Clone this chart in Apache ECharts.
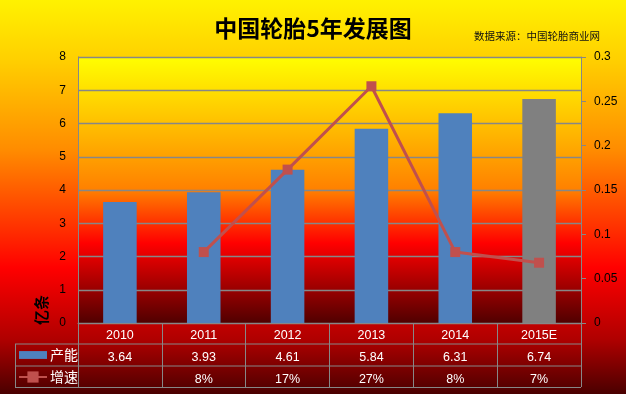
<!DOCTYPE html>
<html><head><meta charset="utf-8">
<script src="https://cdn.jsdelivr.net/npm/echarts@6/dist/echarts.min.js"></script>
<style>
html,body{margin:0;padding:0;}
#c{width:626px;height:394px;background:linear-gradient(to bottom,#FFF200 0%,#FFD000 15%,#FF8C00 38%,#FF3000 58%,#FF0000 68%,#B00000 86%,#4A0000 100%);}
</style></head>
<body><div id="c"></div>
<script>
const categories = ['2010','2011','2012','2013','2014','2015E'];
const capacity = [3.64, 3.93, 4.61, 5.84, 6.31, 6.74];
const growth = [null, 0.080, 0.173, 0.267, 0.080, 0.068];
const growthLabels = ['', '8%', '17%', '27%', '8%', '7%'];
const capacityLabels = ['3.64','3.93','4.61','5.84','6.31','6.74'];
const leftTicks = [0,1,2,3,4,5,6,7,8];
const rightTicks = [0,0.05,0.1,0.15,0.2,0.25,0.3];

const G = {left:78, right:45, top:57, bottom:71};
const gridColor = '#878787';
const font = '"Liberation Sans","DejaVu Sans",sans-serif';
const cjk = '"Noto Sans CJK SC",sans-serif';

const chart = echarts.init(document.getElementById('c'), null, {renderer:'canvas'});
const option = {
  backgroundColor: 'transparent',
  animation: false,
  title: [
    {text:'中国轮胎5年发展图', left:'center', top:12,
     textStyle:{fontFamily:cjk, fontSize:23, fontWeight:'bold', color:'#000'}},
    {text:'数据来源：中国轮胎商业网', left:469, top:26,
     textStyle:{fontFamily:cjk, fontSize:10.5, fontWeight:'normal', color:'#111'}}
  ],
  grid: {left:G.left, right:G.right, top:G.top, bottom:G.bottom, show:true, borderWidth:0,
    backgroundColor: new echarts.graphic.LinearGradient(0,0,0,1,[
      {offset:0,color:'#FFFF00'},{offset:0.5,color:'#FF8000'},{offset:0.7,color:'#FF0000'},{offset:1,color:'#500000'}])},
  legend: {orient:'vertical', left:18, top:348, padding:0, itemWidth:28, itemHeight:14, itemGap:8,
    textStyle:{color:'#fff', fontFamily:cjk, fontSize:14, padding:[0,0,0,-2]},
    data:[
      {name:'产能', icon:'path://M0,0 L25,0 L25,7 L0,7 Z', itemStyle:{color:'#4F81BD'}},
      {name:'增速'}
    ]},
  xAxis: {type:'category', data:categories, boundaryGap:true,
    axisLine:{show:true, lineStyle:{color:gridColor, width:1}},
    axisTick:{show:true, length:64, lineStyle:{color:gridColor, width:1}},
    axisLabel:{interval:0, margin:2, color:'#fff',
      formatter:function(v, i){ return '{h|'+v+'}\n{v|'+capacityLabels[i]+'}\n{g|'+(growthLabels[i]||' ')+'}'; },
      rich:{
        h:{fontFamily:font, fontSize:12.5, color:'#fff', lineHeight:22, height:22},
        v:{fontFamily:font, fontSize:12.5, color:'#fff', lineHeight:22, height:22},
        g:{fontFamily:font, fontSize:12.5, color:'#fff', lineHeight:21, height:21}
      }}},
  yAxis: [
    {type:'value', min:0, max:8, interval:1,
     axisLine:{show:true, lineStyle:{color:gridColor}}, axisTick:{show:false},
     axisLabel:{color:'#000', fontFamily:font, fontSize:12, margin:12},
     splitLine:{show:true, lineStyle:{color:gridColor, width:1.3}}},
    {type:'value', min:0, max:0.3, interval:0.05, position:'right',
     axisLine:{show:true, lineStyle:{color:gridColor}},
     axisTick:{show:true, length:5, lineStyle:{color:gridColor}},
     axisLabel:{color:'#000', fontFamily:font, fontSize:12, margin:13, formatter:function(v){return String(+v.toFixed(2));}},
     splitLine:{show:false}}
  ],
  series: [
    {name:'产能', type:'bar', data:capacity, barWidth:'40%', yAxisIndex:0,
     itemStyle:{color:function(p){ return p.dataIndex===capacity.length-1 ? '#808080' : '#4F81BD'; }}},
    {name:'增速', type:'line', data:growth, yAxisIndex:1, symbol:'rect', symbolSize:10,
     lineStyle:{color:'#C0504D', width:3}, itemStyle:{color:'#C0504D'}, connectNulls:false}
  ],
  graphic: [
    {type:'line', shape:{x1:15,y1:344,x2:581,y2:344}, style:{stroke:gridColor, lineWidth:1}},
    {type:'line', shape:{x1:15,y1:366,x2:581,y2:366}, style:{stroke:gridColor, lineWidth:1}},
    {type:'line', shape:{x1:15,y1:387.5,x2:581,y2:387.5}, style:{stroke:gridColor, lineWidth:1}},
    {type:'line', shape:{x1:15.5,y1:344,x2:15.5,y2:388}, style:{stroke:gridColor, lineWidth:1}},
    {type:'text', x:41, y:310, rotation:Math.PI/2,
     style:{text:'亿条', font:'bold 15px "Noto Sans CJK SC",sans-serif', fill:'#000', align:'center', verticalAlign:'middle'}}
  ]
};
chart.setOption(option);
</script></body></html>
